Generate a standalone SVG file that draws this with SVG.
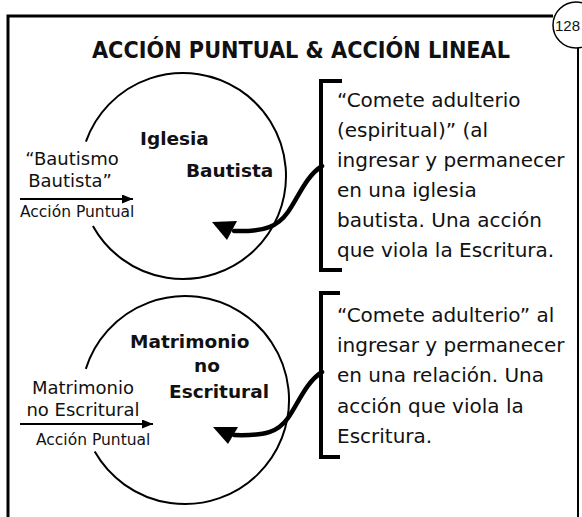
<svg xmlns="http://www.w3.org/2000/svg" width="582" height="517" viewBox="0 0 582 517">
<style>
  .hand { font-family: "DejaVu Sans", "Noto Sans", sans-serif; fill: #111; }
  .bold { font-weight: bold; }
  .line { fill: none; stroke: #000; }
  .ring { fill: none; stroke: #000; stroke-width: 2; }
  .bracket { fill: none; stroke: #000; stroke-width: 4; }
  .curve { fill: none; stroke: #000; stroke-width: 4.5; stroke-linecap: round; }
  .head { fill: #000; }
  .note { font-size: 20px; }
  .left { font-size: 18px; }
  .small { font-size: 15.5px; }
  .label { font-size: 18.5px; }
</style>
<defs>
  <marker id="tip" markerUnits="userSpaceOnUse" markerWidth="11" markerHeight="9" refX="11" refY="4.5" orient="auto">
    <path d="M0,0 L11,4.5 L0,9 z" fill="#000"/>
  </marker>
</defs>
<rect width="582" height="517" fill="#fff"/>

<g id="frame">
  <path class="line" stroke-width="3" d="M8 517 L8 16 L553 16"/>
  <path class="line" stroke-width="2" d="M578 48 L578 517"/>
</g>

<g id="badge">
  <circle cx="576" cy="25" r="23" fill="#fff" stroke="#000" stroke-width="1.5"/>
  <text x="555" y="31" font-family="Liberation Sans, Arial, sans-serif" font-size="15" fill="#111">128</text>
</g>

<g id="title">
  <text class="hand bold" x="92" y="58" font-size="23" textLength="418" lengthAdjust="spacingAndGlyphs">ACCIÓN PUNTUAL &amp; ACCIÓN LINEAL</text>
</g>

<g id="node-iglesia">
  <path class="ring" d="M85.9 141.6 A103 103 0 1 1 92.9 225.9"/>
  <text class="hand bold label" x="140" y="145">Iglesia</text>
  <text class="hand bold label" x="186" y="177">Bautista</text>
</g>

<g id="node-matrimonio">
  <path class="ring" d="M85.8 368.9 A104 104 0 1 1 94.7 451.6"/>
  <text class="hand bold label" x="130" y="348">Matrimonio</text>
  <text class="hand bold label" x="194" y="372">no</text>
  <text class="hand bold label" x="169" y="398">Escritural</text>
</g>

<g id="label-bautismo">
  <text class="hand left" x="72" y="165" text-anchor="middle">“Bautismo</text>
  <text class="hand left" x="70" y="187" text-anchor="middle">Bautista”</text>
  <text class="hand small" x="20" y="217">Acción Puntual</text>
</g>

<g id="label-matrimonio">
  <text class="hand left" x="83" y="394" text-anchor="middle">Matrimonio</text>
  <text class="hand left" x="83" y="416" text-anchor="middle">no Escritural</text>
  <text class="hand small" x="36" y="445">Acción Puntual</text>
</g>

<g id="note-iglesia">
  <path class="bracket" d="M342 81 L321 81 L321 270 L342 270"/>
  <text class="hand note" x="337" y="107">“Comete adulterio</text>
  <text class="hand note" x="337" y="137">(espiritual)” (al</text>
  <text class="hand note" x="337" y="167">ingresar y permanecer</text>
  <text class="hand note" x="337" y="197">en una iglesia</text>
  <text class="hand note" x="337" y="227">bautista. Una acción</text>
  <text class="hand note" x="337" y="257">que viola la Escritura.</text>
</g>

<g id="note-matrimonio">
  <path class="bracket" d="M340 293 L321 293 L321 457 L340 457"/>
  <text class="hand note" x="337" y="322">“Comete adulterio” al</text>
  <text class="hand note" x="337" y="352">ingresar y permanecer</text>
  <text class="hand note" x="337" y="382">en una relación. Una</text>
  <text class="hand note" x="337" y="413">acción que viola la</text>
  <text class="hand note" x="337" y="443">Escritura.</text>
</g>

<g id="connectors">
  <line class="line" stroke-width="2" x1="20" y1="199" x2="133" y2="199" marker-end="url(#tip)"/>
  <line class="line" stroke-width="2" x1="20" y1="424" x2="153" y2="424" marker-end="url(#tip)"/>
  <path class="curve" d="M322 166 C306 176 298 198 288 212 C278 226 266 232 234 231"/>
  <polygon class="head" points="212,222 237,221 227,240"/>
  <path class="curve" d="M322 372 C306 382 298 404 288 418 C278 432 266 436 234 435"/>
  <polygon class="head" points="213,427 238,427 228,444"/>
</g>
</svg>
